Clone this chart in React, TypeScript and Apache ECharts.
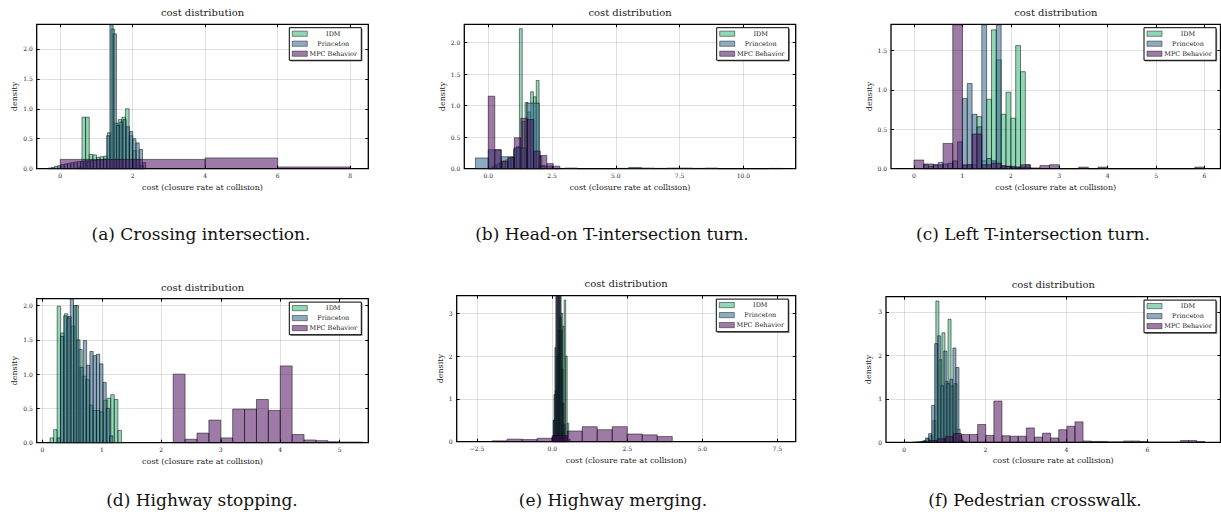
import React, { useEffect, useRef } from 'react';
import * as echarts from 'echarts';

// ---------------- data ----------------
const SERIES_NAMES = ['IDM', 'Princeton', 'MPC Behavior'];
const TITLE = 'cost distribution';
const X_NAME = 'cost (closure rate at collision)';
const Y_NAME = 'density';
const CAPTIONS = [
  '(a) Crossing intersection.',
  '(b) Head-on T-intersection turn.',
  '(c) Left T-intersection turn.',
  '(d) Highway stopping.',
  '(e) Highway merging.',
  '(f) Pedestrian crosswalk.',
];

// (a) Crossing intersection
const A_X_TICKS = [0, 2, 4, 6, 8];
const A_Y_TICKS = [0, 0.5, 1, 1.5, 2];
const A_IDM_START = 0.5, A_IDM_BIN = 0.1;
const A_IDM = [0.03, 0.86, 0.86, 0.24, 0.23, 0.19, 0.2, 0.21, 0.6, 2.33, 0.76, 0.82, 0.86, 1.0, 0.55, 0.3, 0.15, 0.05];
const A_PRI_START = -0.34, A_PRI_BIN = 0.09;
const A_PRI = [0.01, 0.02, 0.04, 0.05, 0.07, 0.08, 0.09, 0.1, 0.11, 0.12, 0.12, 0.13, 0.13, 0.14, 0.14, 0.15, 0.15, 0.16, 0.55, 2.5, 2.25, 0.72, 0.78, 0.82, 0.7, 0.62, 0.5, 0.43, 0.32, 0.1];
const A_MPC_START = 0, A_MPC_BIN = 2;
const A_MPC = [0.155, 0.155, 0.18, 0.03];

// (b) Head-on T-intersection turn
const B_X_TICKS = [0, 2.5, 5, 7.5, 10];
const B_Y_TICKS = [0, 0.5, 1, 1.5, 2];
const B_IDM_START = 0.01, B_IDM_BIN = 0.11;
const B_IDM = [0, 0.03, 0.06, 0.08, 0.1, 0.12, 0.14, 0.16, 0.18, 0.3, 0.35, 2.22, 0.75, 1.05, 0.9, 1.22, 1.14, 1.4, 0.2, 0.05];
const B_PRI_START = -0.5, B_PRI_BIN = 0.5;
const B_PRI = [0.17, 0.3, 0.19, 0.33, 1.04, 0.04, 0.005, 0.01, 0, 0, 0, 0.005, 0.02, 0.01, 0.005, 0.01, 0.01, 0.005, 0.01, 0, 0, 0, 0, 0.005];
const B_MPC_START = 0, B_MPC_BIN = 0.255;
const B_MPC = [1.15, 0.3, 0.12, 0.18, 0.49, 0.8, 0.78, 0.28, 0.21, 0.08, 0.04];

// (c) Left T-intersection turn
const C_X_TICKS = [0, 1, 2, 3, 4, 5, 6];
const C_Y_TICKS = [0, 0.5, 1, 1.5];
const C_IDM_START = 1.0, C_IDM_BIN = 0.1;
const C_IDM = [0.04, 0.05, 0.05, 0.66, 0.1, 0.88, 1.76, 1.38, 0.69, 0.97, 0.64, 1.56, 1.23, 0.05];
const C_PRI_START = 0.2, C_PRI_BIN = 0.1;
const C_PRI = [0.05, 0.03, 0.05, 0.08, 0.06, 0.07, 0.1, 0.34, 0.89, 1.08, 0.69, 0.53, 2.8, 0.13, 0.1, 2.5, 0.04, 0.03, 0.03, 0.02, 0.02, 0.02];
const C_MPC_START = 0, C_MPC_BIN = 0.2;
const C_MPC = [0.11, 0.06, 0.05, 0.32, 3.5, 0.05, 0.44, 0.05, 0.07, 0.03, 0.02, 0.05, 0.01, 0.04, 0.05, 0, 0, 0.02, 0, 0.02, 0, 0, 0, 0, 0, 0, 0, 0, 0, 0.02];

// (d) Highway stopping
const D_X_TICKS = [0, 1, 2, 3, 4, 5];
const D_Y_TICKS = [0, 0.5, 1, 1.5, 2];
const D_IDM_START = 0.13, D_IDM_BIN = 0.06;
const D_IDM = [0.07, 0.19, 1.99, 1.6, 1.88, 1.84, 1.7, 2.0, 1.36, 0.97, 0.92, 0.55, 0.47, 0.47, 0.45, 0.62, 0.65, 0.7, 0.63, 0.18];
const D_PRI_START = 0.25, D_PRI_BIN = 0.055;
const D_PRI = [0.07, 1.55, 1.85, 1.82, 2.3, 2.0, 1.5, 1.1, 1.49, 1.13, 1.33, 1.27, 1.29, 1.15, 0.88, 0.5, 0.1];
const D_MPC_START = 2.2, D_MPC_BIN = 0.2;
const D_MPC = [1.0, 0.05, 0.14, 0.33, 0.07, 0.49, 0.49, 0.63, 0.47, 1.12, 0.12, 0.04, 0.03, 0.015, 0.01, 0.01];

// (e) Highway merging
const E_X_TICKS = [-2.5, 0, 2.5, 5, 7.5];
const E_Y_TICKS = [0, 1, 2, 3];
const E_IDM_START = 0.0, E_IDM_BIN = 0.05;
const E_IDM = [0.1, 0.5, 1.2, 2.0, 2.6, 2.9, 3.0, 2.7, 3.31, 2.0, 0.43, 0.05];
const E_PRI_START = 0.0, E_PRI_BIN = 0.03;
const E_PRI = [0.1, 0.5, 1.1, 2.2, 3.4, 4.2, 4.5, 4.3, 4.0, 3.4, 2.6, 1.7, 0.9, 0.4, 0.1];
const E_MPC_START = -2.0, E_MPC_BIN = 0.5;
const E_MPC = [0.02, 0.06, 0.05, 0.08, 0.14, 0.25, 0.35, 0.28, 0.35, 0.18, 0.16, 0.12];

// (f) Pedestrian crosswalk
const F_X_TICKS = [0, 2, 4, 6];
const F_Y_TICKS = [0, 1, 2, 3];
const F_IDM_START = 0.33, F_IDM_BIN = 0.075;
const F_IDM = [0.01, 0.02, 0.04, 0.08, 0.15, 0.5, 3.25, 1.9, 2.52, 1.4, 2.83, 1.3, 1.35, 0.3, 0.05];
const F_PRI_START = 0.45, F_PRI_BIN = 0.075;
const F_PRI = [0.03, 0.1, 0.2, 0.85, 2.27, 2.45, 1.3, 2.1, 1.35, 1.45, 2.17, 1.72, 0.15, 0.02];
const F_MPC_START = 0.21, F_MPC_BIN = 0.2;
const F_MPC = [0.005, 0.01, 0.04, 0.08, 0.13, 0.2, 0.18, 0.18, 0.41, 0.16, 0.95, 0.15, 0.14, 0.14, 0.33, 0.12, 0.21, 0.1, 0.29, 0.37, 0.47, 0.03, 0.02, 0.02, 0.01, 0.01, 0.03, 0.03, 0.02, 0, 0, 0, 0, 0.04, 0.04, 0.02];

// ---------------- layout / style ----------------
const FONT = '"DejaVu Serif", "Liberation Serif", serif';
const TEXT = '#1a1a1a';
const GRID_LINE = 'rgba(0,0,0,0.12)';
const EDGE = 'rgba(0,0,0,0.55)';
const FILLS = ['rgba(53,183,121,0.55)', 'rgba(49,104,142,0.55)', 'rgba(68,1,84,0.52)'];

type Panel = {
  l: number; t: number; w: number; h: number;
  xMin: number; xMax: number; yMax: number;
  xDec: number; yDec: number;
  titleY: number; capX: number; capY: number;
  yGap: number; legR: number;
};

const PANELS: Panel[] = [
  { l: 36.7, t: 24.3, w: 331.6, h: 144.4, xMin: -0.65, xMax: 8.5, yMax: 2.41, xDec: 0, yDec: 1, titleY: 12.3, capX: 201, capY: 234, yGap: 18, legR: 7 },
  { l: 464.3, t: 24.3, w: 331.4, h: 144.4, xMin: -0.94, xMax: 12.05, yMax: 2.29, xDec: 1, yDec: 1, titleY: 12.3, capX: 612, capY: 234, yGap: 18, legR: 7 },
  { l: 891, t: 24.3, w: 329.5, h: 144.4, xMin: -0.475, xMax: 6.33, yMax: 1.83, xDec: 0, yDec: 1, titleY: 12.3, capX: 1033, capY: 234, yGap: 18, legR: 4.5 },
  { l: 36.7, t: 298.7, w: 331.6, h: 144, xMin: -0.094, xMax: 5.48, yMax: 2.1, xDec: 0, yDec: 1, titleY: 287, capX: 202, capY: 500, yGap: 18, legR: 7 },
  { l: 456.7, t: 295.7, w: 339, h: 146, xMin: -3.18, xMax: 8.11, yMax: 3.41, xDec: 1, yDec: 0, titleY: 283.3, capX: 613, capY: 500, yGap: 11, legR: 7.4 },
  { l: 886, t: 296.7, w: 334.5, h: 145.6, xMin: -0.45, xMax: 7.8, yMax: 3.35, xDec: 0, yDec: 0, titleY: 284, capX: 1035, capY: 500, yGap: 14, legR: 4.5 },
];

const bins = (start: number, width: number, heights: number[]) =>
  heights.map((h, i) => [start + i * width, start + (i + 1) * width, h]);

const PANEL_DATA = [
  { xTicks: A_X_TICKS, yTicks: A_Y_TICKS, series: [bins(A_IDM_START, A_IDM_BIN, A_IDM), bins(A_PRI_START, A_PRI_BIN, A_PRI), bins(A_MPC_START, A_MPC_BIN, A_MPC)] },
  { xTicks: B_X_TICKS, yTicks: B_Y_TICKS, series: [bins(B_IDM_START, B_IDM_BIN, B_IDM), bins(B_PRI_START, B_PRI_BIN, B_PRI), bins(B_MPC_START, B_MPC_BIN, B_MPC)] },
  { xTicks: C_X_TICKS, yTicks: C_Y_TICKS, series: [bins(C_IDM_START, C_IDM_BIN, C_IDM), bins(C_PRI_START, C_PRI_BIN, C_PRI), bins(C_MPC_START, C_MPC_BIN, C_MPC)] },
  { xTicks: D_X_TICKS, yTicks: D_Y_TICKS, series: [bins(D_IDM_START, D_IDM_BIN, D_IDM), bins(D_PRI_START, D_PRI_BIN, D_PRI), bins(D_MPC_START, D_MPC_BIN, D_MPC)] },
  { xTicks: E_X_TICKS, yTicks: E_Y_TICKS, series: [bins(E_IDM_START, E_IDM_BIN, E_IDM), bins(E_PRI_START, E_PRI_BIN, E_PRI), bins(E_MPC_START, E_MPC_BIN, E_MPC)] },
  { xTicks: F_X_TICKS, yTicks: F_Y_TICKS, series: [bins(F_IDM_START, F_IDM_BIN, F_IDM), bins(F_PRI_START, F_PRI_BIN, F_PRI), bins(F_MPC_START, F_MPC_BIN, F_MPC)] },
];

const fmt = (v: number, d: number) => {
  const s = Math.abs(v).toFixed(d);
  return v < 0 ? '\u2212' + s : s;
};

const makeRender = (fill: string) => (params: any, api: any) => {
  const x0 = api.value(0), x1 = api.value(1), h = api.value(2);
  const a = api.coord([x0, h]);
  const b = api.coord([x1, 0]);
  const cs = params.coordSys;
  const left = Math.max(a[0], cs.x);
  const right = Math.min(b[0], cs.x + cs.width);
  const top = Math.max(a[1], cs.y + 0.5);
  const bottom = b[1];
  if (right <= left) return null;
  return {
    type: 'rect',
    shape: { x: left, y: top, width: right - left, height: Math.max(bottom - top, 0) },
    style: { fill, stroke: EDGE, lineWidth: 0.9 },
  };
};

function buildOption() {
  const grid: any[] = [];
  const xAxis: any[] = [];
  const yAxis: any[] = [];
  const series: any[] = [];
  const graphic: any[] = [];

  PANELS.forEach((p, i) => {
    const pd = PANEL_DATA[i];
    grid.push({ left: p.l, top: p.t, width: p.w, height: p.h, show: true, borderColor: '#000', borderWidth: 1.3, backgroundColor: 'transparent' });
    const tickStyle = { show: true, inside: true, length: 3, lineStyle: { color: '#000', width: 1 } };
    const noLine = { show: false, onZero: false };
    xAxis.push({
      type: 'value', gridIndex: i, position: 'bottom', min: p.xMin, max: p.xMax,
      axisLine: noLine,
      axisTick: { ...tickStyle, customValues: pd.xTicks },
      axisLabel: { show: true, customValues: pd.xTicks, formatter: (v: number) => fmt(v, p.xDec), fontSize: 6, margin: 4, color: TEXT, fontFamily: FONT },
      splitLine: { show: true, lineStyle: { color: GRID_LINE, width: 1 } },
      name: X_NAME, nameLocation: 'middle', nameGap: 14.5,
      nameTextStyle: { fontSize: 8, fontFamily: FONT, color: TEXT },
    });
    xAxis.push({
      type: 'value', gridIndex: i, position: 'top', min: p.xMin, max: p.xMax,
      axisLine: noLine,
      axisTick: { ...tickStyle, customValues: pd.xTicks },
      axisLabel: { show: false, customValues: pd.xTicks },
      splitLine: { show: false },
    });
    yAxis.push({
      type: 'value', gridIndex: i, position: 'left', min: 0, max: p.yMax,
      axisLine: noLine,
      axisTick: { ...tickStyle, customValues: pd.yTicks },
      axisLabel: { show: true, customValues: pd.yTicks, formatter: (v: number) => fmt(v, p.yDec), fontSize: 6, margin: 4, color: TEXT, fontFamily: FONT },
      splitLine: { show: true, lineStyle: { color: GRID_LINE, width: 1 } },
      name: Y_NAME, nameLocation: 'middle', nameGap: p.yGap, nameRotate: 90,
      nameTextStyle: { fontSize: 8, fontFamily: FONT, color: TEXT },
    });
    yAxis.push({
      type: 'value', gridIndex: i, position: 'right', min: 0, max: p.yMax,
      axisLine: noLine,
      axisTick: { ...tickStyle, customValues: pd.yTicks },
      axisLabel: { show: false, customValues: pd.yTicks },
      splitLine: { show: false },
    });

    pd.series.forEach((data, k) => {
      series.push({
        type: 'custom', name: SERIES_NAMES[k],
        xAxisIndex: 2 * i, yAxisIndex: 2 * i,
        data, encode: { x: [0, 1], y: 2 },
        renderItem: makeRender(FILLS[k]),
        silent: true, z: 2 + k,
      });
    });

    graphic.push({
      type: 'text', z: 100,
      style: { text: TITLE, x: p.l + p.w / 2, y: p.titleY, fontSize: 10, fontFamily: FONT, fill: TEXT, textAlign: 'center', textVerticalAlign: 'middle' },
    });
    graphic.push({
      type: 'text', z: 100,
      style: { text: CAPTIONS[i], x: p.capX, y: p.capY, fontSize: 17, fontFamily: FONT, fill: '#111', textAlign: 'center', textVerticalAlign: 'middle' },
    });
    const LW = 72, LH = 32.6;
    const lx = p.l + p.w - p.legR - LW;
    const ly = p.t + 3.4;
    graphic.push({ type: 'rect', z: 100, shape: { x: lx + 1.2, y: ly + 1.2, width: LW, height: LH }, style: { fill: 'rgba(0,0,0,0.45)' } });
    graphic.push({ type: 'rect', z: 101, shape: { x: lx, y: ly, width: LW, height: LH }, style: { fill: '#fff', stroke: '#000', lineWidth: 1 } });
    SERIES_NAMES.forEach((nm, k) => {
      const cy = ly + 6 + 10 * k;
      graphic.push({ type: 'rect', z: 102, shape: { x: lx + 3, y: cy - 2.6, width: 15, height: 5.2 }, style: { fill: FILLS[k], stroke: EDGE, lineWidth: 0.8 } });
      graphic.push({ type: 'text', z: 102, style: { text: nm, x: lx + 44, y: cy, fontSize: 6.5, fontFamily: FONT, fill: TEXT, textAlign: 'center', textVerticalAlign: 'middle' } });
    });
  });

  return { animation: false, backgroundColor: '#fff', grid, xAxis, yAxis, series, graphic };
}

export default function App() {
  const ref = useRef<HTMLDivElement>(null);
  useEffect(() => {
    if (!ref.current) return;
    const chart = echarts.init(ref.current, undefined, { renderer: 'svg' });
    chart.setOption(buildOption() as any);
    return () => chart.dispose();
  }, []);
  return <div ref={ref} style={{ position: 'absolute', left: 0, top: 0, width: 1221, height: 516 }} />;
}
